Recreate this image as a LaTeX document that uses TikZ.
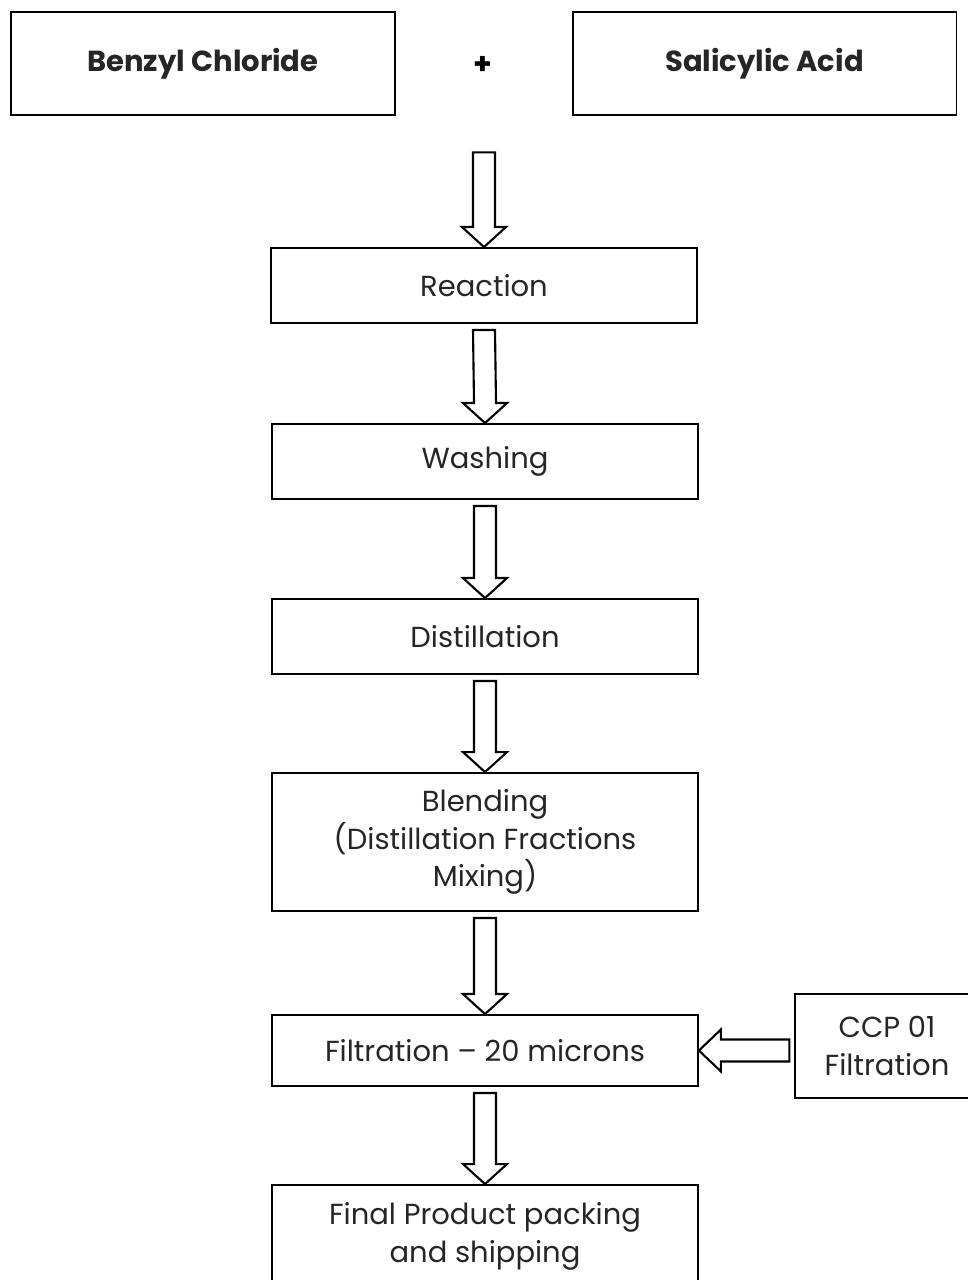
\documentclass[tikz,border=0pt]{standalone}
\usepackage{fontspec}
\setmainfont{Poppins}
\usetikzlibrary{calc}

\begin{document}
\begin{tikzpicture}[x=0.02cm,y=-0.02cm,
    stepbox/.style={draw, line width=1.1pt, minimum width=8.52cm, minimum height=1.5cm,
      align=center, text=black!85, font=\fontsize{16.5}{21.5}\selectfont},
    inbox/.style={stepbox, minimum width=7.68cm, minimum height=2.06cm,
      font=\bfseries\fontsize{16.5}{21.5}\selectfont},
    blockarrow/.style={draw, line width=1.2pt, fill=white, line join=miter}]
  \useasboundingbox (0,0) rectangle (967,1280);
  \def\sw{11}  % half shaft
  \def\hw{22}  % half head
  \def\hl{20}  % head length
  \def\gap{6}
  % raw materials
  \node[inbox] (benzyl) at (203,63.5) {Benzyl Chloride};
  \node[inbox] (salicyl) at (764.5,63.5) {Salicylic Acid};
  \node[font=\bfseries\fontsize{17}{21}\selectfont] (plus) at (483,65) {+};
  \node[inner sep=0pt, minimum size=0pt] (mix) at (484,146) {};
  % process steps
  \node[stepbox] (react) at (484,285.5) {Reaction};
  \node[stepbox] (wash) at (485,461.5) {Washing};
  \node[stepbox] (distil) at (485,636.5) {Distillation};
  \node[stepbox, minimum height=2.76cm] (blend) at (485,842)
    {Blending\\(Distillation Fractions\\Mixing)};
  \node[stepbox, minimum height=1.42cm] (filt) at (485,1050.5) {Filtration -- 20 microns};
  \node[stepbox, minimum height=2.04cm] (final) at (485,1236)
    {Final Product packing\\and shipping};
  % control point
  \node[stepbox, line width=0.8pt, minimum width=3.68cm, minimum height=2.08cm] (ccp) at (887,1046)
    {CCP 01\\Filtration};
  % arrows
  \foreach \a/\b in {mix/react, react/wash, wash/distil, distil/blend, blend/filt, filt/final} {
    \draw[blockarrow] ($(\a.south)+(-\sw,\gap)$) -- ($(\b.north)+(-\sw,-\hl)$)
      -- ($(\b.north)+(-\hw,-\hl)$) -- (\b.north) -- ($(\b.north)+(\hw,-\hl)$)
      -- ($(\b.north)+(\sw,-\hl)$) -- ($(\a.south)+(\sw,\gap)$) -- cycle;
  }
  \draw[blockarrow] ($(ccp.west |- filt.east)+(-5,-\sw)$) -- ($(filt.east)+(\hl+2,-\sw)$)
    -- ($(filt.east)+(\hl+2,-\hw+1)$) -- (filt.east) -- ($(filt.east)+(\hl+2,\hw-1)$)
    -- ($(filt.east)+(\hl+2,\sw)$) -- ($(ccp.west |- filt.east)+(-5,\sw)$) -- cycle;
\end{tikzpicture}
\end{document}
